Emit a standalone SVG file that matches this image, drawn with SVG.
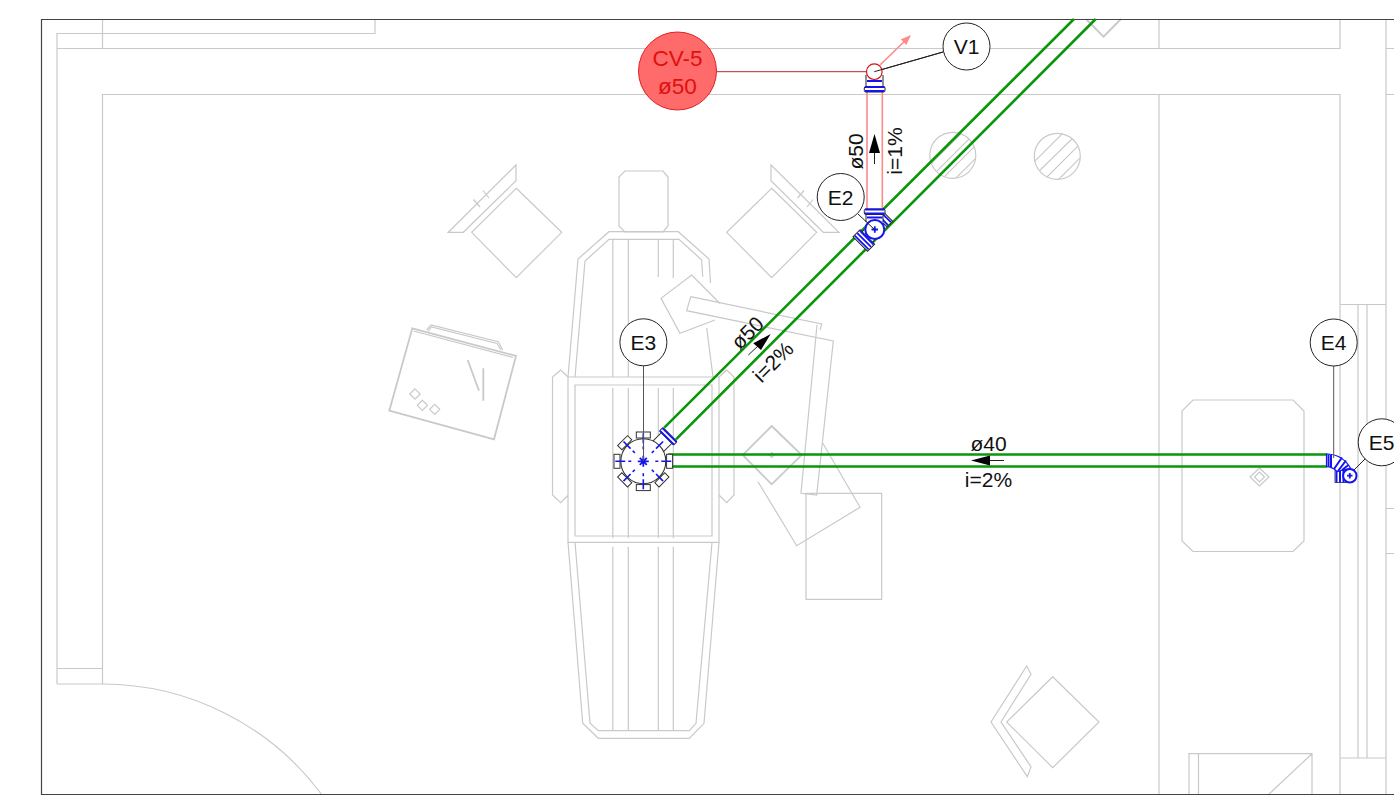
<svg xmlns="http://www.w3.org/2000/svg" width="1394" height="803" viewBox="0 0 1394 803">
<style>
.b{fill:none;stroke:#c9c9c9;stroke-width:1.2}
.b2{fill:none;stroke:#c9c9c9;stroke-width:1.8}
.g{fill:none;stroke:#0a960a;stroke-width:2.6}
.p{fill:none;stroke:#ff8a8a;stroke-width:1.6}
.k{fill:none;stroke:#222;stroke-width:1}
.bl{fill:none;stroke:#1414f0;stroke-width:1.8}
.st{fill:#fff;stroke:#333;stroke-width:1}
.tag{fill:#fff;stroke:#222;stroke-width:1}
text{font-family:"Liberation Sans",Arial,sans-serif;fill:#111;text-anchor:middle}
.t{font-size:21px}
.l{font-size:21px}
.r{font-size:22.5px;fill:#e01010}
</style>
<defs>
<marker id="ah" markerWidth="10" markerHeight="8" refX="9" refY="4" orient="auto" markerUnits="userSpaceOnUse" viewBox="0 0 10 8"><path d="M0 0L10 4L0 8Z" fill="#ff8a8a"/></marker>
<clipPath id="c1"><circle cx="952.8" cy="155.3" r="23"/></clipPath>
<clipPath id="c2"><circle cx="1057.3" cy="156.3" r="23"/></clipPath>
<path id="spoke" d="M0 -28V-18M0 -15V-12" fill="none" stroke="#1414f0" stroke-width="1.6"/>
<rect id="stub" x="-7" y="-29.300" width="14" height="6" fill="#fff" stroke="#333" stroke-width="1"/>
</defs>
<rect width="1394" height="803" fill="#fff"/>
<g id="plan">
<path class="b" d="M57 684V33.500H375V19M102.500 19V48.500M57 48.500H1340V19M102.500 684V94.500H1340V795M1159 19V48.500M1159 94.500V795M1386 19V795M1386 48.500H1394M1386 94.500H1394M57 668.500H102.500M57 684H102.500"/>
<path class="b" d="M102.500 684A273.500 273.500 0 0 1 322 795"/>
<path class="b" d="M1340.500 304.500H1386M1358 304.500V758M1367 304.500V758M1340.500 758H1386M1386 508.500H1394M1386 553.500H1394"/>
<path class="b" d="M1189 795V753.700H1312V795M1198.500 753.700V795M1312 753.700L1268 795"/>
<path class="b" d="M625 171H663L668 177V226L663 232H625L619 226V177Z"/>
<path class="b" d="M568 377L578 259L609 231.700H678.300L709 259L710.500 283M575 377L585 261L609 239.300H679L701.700 260L702.700 276.700M706.700 328L713 377"/>
<path class="b" d="M612.800 239.300V377M628.300 239.300V377M658.300 239.300V277M673.300 239.300V278M612.800 388V538M628.300 388V538M658.300 388V538M673.300 388V538M612.800 546.700V730.500M628.300 546.700V730.500M658.300 546.700V730.500M673.300 546.700V730.500"/>
<path class="b" d="M568 377H719V542.300H568ZM575 385H712V536H575ZM552.500 377L560.700 370L568 377M552.500 377V495L560.700 502.700L568.300 495M719 377L726.700 370L734 377V495L726.700 502.700L719 495"/>
<path class="b" d="M568 542.300L582.700 723.300L598.300 738.300H689.300L704 723.300L719 542.300M575 542.300L590 723.300L598.300 730.700H689.300L696 723.300L712 542.300"/>
<path class="b" d="M516.300 188.300L561.700 232.300L516.300 277.700L471.700 232.300ZM448.300 232.300L516 165V180.700L463.300 232.300ZM473.500 199.500L480 207M483 190.500L489 198"/>
<path class="b" d="M771.700 188.300L816.700 232.300L771.700 277.700L726.700 232.300ZM771 165L839 232.300H823.300L771 180.700ZM797.500 198L804 190.500M807 207L813 199.500"/>
<path class="b2" d="M412.300 328.300L516 356L494 439.300L389.300 410.700Z"/>
<path class="b" d="M413.500 331L513 357.500M426.700 330L431 325L498.300 341.700L502.700 350M428 331.500L431.500 327L497 343.500L501 350"/>
<path class="b2" d="M467.700 360L479 390.700M483.300 368.300V400.700"/>
<path class="b" d="M415 388.800L420.200 394L415 399.200L409.800 394ZM422.300 400.300L427.500 405.300L422.300 410.500L417.300 405.300ZM434.700 404.300L439.700 409.300L434.700 414.300L429.700 409.300Z"/>
<path class="b" d="M715 320L680 333.300L661 298.300L691.700 275L720 303.500"/>
<path class="b" d="M690.700 296.700L821.700 324L820 330M690.700 296.700L686.700 310.700L833.300 341L816.700 495L801 493.300L817 325"/>
<path class="b" d="M758 481.700L796.700 545.700L860 507.300L822.700 443"/>
<path class="b" d="M806 493.300H881.700V599.300H806Z"/>
<path class="b2" d="M771.700 426L801.700 455L771.700 484.300L742.700 455Z"/>
<path class="b" d="M771.700 452.500L774.300 455L771.700 457.500L769.200 455Z"/>
<path class="b" d="M1193 400H1293L1304 411V541L1293 551.500H1193L1182 541V411ZM1259.500 468L1269 477L1259.500 486L1250 477ZM1259.500 472L1264.500 477L1259.500 482L1254.500 477Z"/>
<circle class="b" cx="952.800" cy="155.300" r="23"/>
<circle class="b" cx="1057.300" cy="156.300" r="23"/>
<path class="b" clip-path="url(#c1)" d="M925 170L965 130M925 183L978 130M936 185L983 138M949 185L983 151"/>
<path class="b" clip-path="url(#c2)" d="M1030 166L1066 130M1030 180L1081 130M1042 182L1087 137M1054 184L1087 151"/>
<path class="b" d="M1052.700 676.700L1099 722L1052.700 767.700L1006.700 722ZM1026.700 666L1031 674.300L1001 722L1031 766.700L1027.300 776.700L991 722Z"/>
<path class="b2" d="M1086 19L1103.500 36.700L1121 19"/>
</g>
<g id="frame"><path d="M1394 19.500H41.500V794.500H1394" fill="none" stroke="#444" stroke-width="1.200"/></g>
<g id="connectors">
<path class="g" d="M668 454.500H1327M668 466.500H1327"/>
<path class="g" d="M664.300 427.700L1074 19M676 439.300L1095.700 19"/>
<path class="p" d="M867 92V209M882.300 92V209"/>
<path d="M717 71.700H866" fill="none" stroke="#b01010" stroke-width="0.900"/>
<path class="p" d="M880 65L910 36" stroke-width="1.200" marker-end="url(#ah)"/>
<path class="k" d="M943 52L875 71.500"/>
<path d="M874.500 164V146" stroke="#222" stroke-width="1" fill="none"/>
<path d="M874.500 134L880 153H869Z" fill="#000"/>
<path d="M748.300 355L758 346" stroke="#222" stroke-width="1" fill="none"/>
<path d="M770.700 334L761 350L753.300 343.300Z" fill="#000"/>
<path d="M1004 460.500H986" stroke="#222" stroke-width="1" fill="none"/>
<path d="M971 460.500L990 455.500V465.500Z" fill="#000"/>
</g>
<g id="CV-5">
<circle cx="677.500" cy="71" r="39" fill="#ff6a6a" stroke="#e02020" stroke-width="1"/>
<text class="r" x="677.500" y="65.500" style="fill:#e01010">CV-5</text>
<text class="r" x="677.500" y="94" style="fill:#e01010">ø50</text>
</g>
<g id="V1">
<circle cx="874.300" cy="71.700" r="7.800" fill="#fff" stroke="#d01010" stroke-width="1.200"/>
<path class="k" d="M866 75V87M883 75V87"/>
<rect x="864.300" y="86.500" width="20.700" height="5.500" rx="1.500" fill="#fff" stroke="#222"/>
<path class="bl" d="M867 81H882M865 87H884.500M865 91H884.500" stroke-width="2"/>
<path class="k" d="M874.300 71.700L943 52"/>
<circle class="tag" cx="966.500" cy="46.500" r="23.500"/>
<text class="t" x="966.500" y="53.500">V1</text>
</g>
<g id="E2">
<g transform="rotate(45 874.800 229.500)">
<path class="st" d="M867.500 237V241H882V237"/>
<rect x="864.500" y="240" width="20.500" height="10" fill="#fff" stroke="#222"/>
<path class="bl" d="M865 241H884.500M865 244.500H884.500M865 248H884.500" stroke-width="2"/>
<rect x="868" y="211" width="13.500" height="8" fill="#fff" stroke="#222"/>
<path class="bl" d="M868.500 213H881M868.500 217H881" stroke-width="1.800"/>
</g>
<path class="st" d="M866.500 214V224H883V214" style="stroke:none"/>
<path class="k" d="M866 214V222M883 214V222"/>
<rect x="864.300" y="209" width="20.700" height="5.500" rx="1.500" fill="#fff" stroke="#222"/>
<path class="bl" d="M865 209.500H884.500M865 213.500H884.500M867 217.500H882.500" stroke-width="2"/>
<circle cx="874.800" cy="229.500" r="9.500" fill="#fff" stroke="#1414f0" stroke-width="2"/>
<path class="bl" d="M871.500 229.500H878M874.800 226.300V232.700" stroke-width="1.400"/>
<path class="k" d="M858 214L875 230"/>
<circle class="tag" cx="840.700" cy="197" r="23.500"/>
<text class="t" x="840.700" y="204.500">E2</text>
</g>
<g id="E3">
<g transform="translate(643.300 461.300)">
<use href="#stub"/>
<use href="#stub" transform="rotate(-45)"/>
<use href="#stub" transform="rotate(-90)"/>
<use href="#stub" transform="rotate(-135)"/>
<use href="#stub" transform="rotate(180)"/>
<use href="#stub" transform="rotate(135)"/>
<use href="#stub" transform="rotate(90)"/>
<g transform="rotate(45)">
<path class="st" d="M-7.500 -20V-33H7.500V-20"/>
<rect x="-10" y="-37.800" width="20" height="5" rx="1" class="st"/>
<path class="bl" d="M-10 -37H10M-10 -33.500H10" stroke-width="1.800"/>
</g>
<circle r="22.500" fill="#fff" stroke="#333" stroke-width="1.100"/>
<use href="#spoke"/>
<use href="#spoke" transform="rotate(45)"/>
<use href="#spoke" transform="rotate(90)"/>
<use href="#spoke" transform="rotate(135)"/>
<use href="#spoke" transform="rotate(180)"/>
<use href="#spoke" transform="rotate(225)"/>
<use href="#spoke" transform="rotate(270)"/>
<use href="#spoke" transform="rotate(315)"/>
<path class="bl" d="M-5.500 0H5.500M0 -5.500V5.500M-3.500 -3.500L3.500 3.500M-3.500 3.500L3.500 -3.500" stroke-width="1.300"/>
</g>
<path d="M643.500 365.500V461" stroke="#555" stroke-width="1" fill="none"/>
<circle class="tag" cx="643.400" cy="342.300" r="23.500"/>
<text class="t" x="643.400" y="349.800">E3</text>
</g>
<g id="E5">
<path class="k" d="M1349 475L1365 459"/>
<rect x="1335" y="468.500" width="12.500" height="14" fill="#fff" stroke="#222" stroke-width="0.800"/>
<path d="M1336.500 468.500V482.500M1340 468.500V482.500M1343.500 468.500V482.500M1346.500 468.500V482.500" stroke="#1414f0" stroke-width="2" fill="none"/>
<circle cx="1349.800" cy="475.700" r="6.700" fill="#fff" stroke="#1414f0" stroke-width="2"/>
<path class="bl" d="M1347 475.700H1352.500M1349.800 473V478.400" stroke-width="1.300"/>
<circle class="tag" cx="1381.700" cy="442.300" r="23.500"/>
<text class="t" x="1381.700" y="449.800">E5</text>
</g>
<g id="E4">
<path d="M1326.500 454C1337 454 1345 459 1350.500 468L1337 471.500C1334 468.500 1331 466.700 1326.500 466.700Z" fill="#fff" stroke="#1414f0" stroke-width="1.200"/>
<path d="M1328.500 454.500V466.700M1331 455V467M1334 469L1342 457.500M1338 471L1346 460.500M1342 470L1348.500 465" stroke="#1414f0" stroke-width="2" fill="none"/>
<path d="M1333.700 366V458" stroke="#555" stroke-width="1" fill="none"/>
<circle class="tag" cx="1333.700" cy="342.500" r="23.500"/>
<text class="t" x="1333.700" y="350">E4</text>
</g>
<g id="labels">
<text class="l" transform="translate(863 151.500) rotate(-90)">ø50</text>
<text class="l" transform="translate(902 151) rotate(-90)">i=1%</text>
<text class="l" transform="translate(752.500 338) rotate(-45)">ø50</text>
<text class="l" transform="translate(778.300 367) rotate(-45)">i=2%</text>
<text class="l" x="988.500" y="450.500">ø40</text>
<text class="l" x="988.500" y="487">i=2%</text>
</g>
</svg>
